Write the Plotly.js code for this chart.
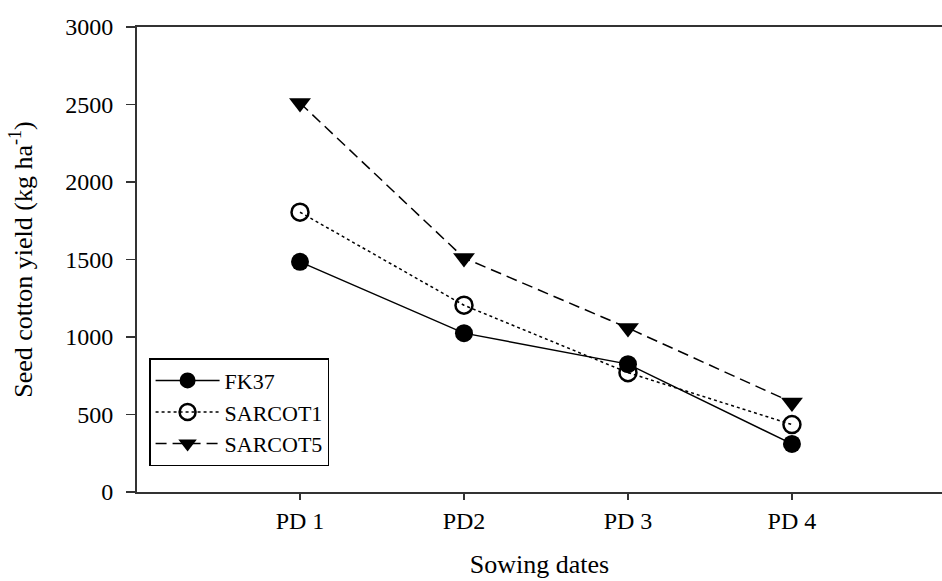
<!DOCTYPE html>
<html>
<head>
<meta charset="utf-8">
<script src="https://cdn.plot.ly/plotly-3.0.1.min.js"></script>
<style>html,body{margin:0;padding:0;background:#fff;}#chart{width:942px;height:581px;}</style>
</head>
<body>
<div id="chart"></div>
<script>
const categories = ["PD 1", "PD2", "PD 3", "PD 4"];
const fk37 = [1485, 1025, 825, 310];
const sarcot1 = [1805, 1205, 770, 435];
const sarcot5 = [2510, 1510, 1058, 578];
const yTicks = [0, 500, 1000, 1500, 2000, 2500, 3000];

const FONT = "Liberation Serif, Times New Roman, serif";

const traces = [
  {
    x: categories, y: fk37, name: "FK37", type: "scatter", mode: "lines+markers",
    line: {color: "#000", width: 1.5, dash: "solid"},
    marker: {symbol: "circle", size: 18, color: "#000"}
  },
  {
    x: categories, y: sarcot1, name: "SARCOT1", type: "scatter", mode: "lines+markers",
    line: {color: "#000", width: 1.5, dash: "dot"},
    marker: {symbol: "circle-open", size: 17, color: "#000", line: {color: "#000", width: 2.5}}
  },
  {
    x: categories, y: sarcot5, name: "SARCOT5", type: "scatter", mode: "lines+markers",
    line: {color: "#000", width: 1.5, dash: "11px,6px"},
    marker: {symbol: "triangle-down", size: 19, color: "#000"}
  }
];

const layout = {
  width: 942, height: 581,
  paper_bgcolor: "#fff", plot_bgcolor: "#fff",
  margin: {l: 137, r: 0, t: 27, b: 89},
  font: {family: FONT, size: 24, color: "#000"},
  showlegend: true,
  legend: {
    x: 0.015, y: 0.288, xanchor: "left", yanchor: "top",
    bgcolor: "#fff", bordercolor: "#000", borderwidth: 1.5,
    font: {family: FONT, size: 22, color: "#000"},
    itemwidth: 64, tracegroupgap: 0
  },
  xaxis: {
    type: "category",
    range: [-0.994, 3.915],
    showgrid: false, zeroline: false,
    showline: true, linecolor: "#333", linewidth: 2, mirror: true,
    ticks: "outside", ticklen: 6, tickwidth: 1.5, tickcolor: "#333",
    tickfont: {family: FONT, size: 24},
    title: {text: "Sowing dates", font: {family: FONT, size: 26}, standoff: 22}
  },
  yaxis: {
    range: [0, 3000],
    tickvals: yTicks,
    showgrid: false, zeroline: false,
    showline: true, linecolor: "#333", linewidth: 2, mirror: false,
    ticks: "outside", ticklen: 9, tickwidth: 1.5, tickcolor: "#333",
    ticklabelstandoff: 8,
    tickfont: {family: FONT, size: 24},
    title: {text: "Seed cotton yield (kg ha<sup>-1</sup>)", font: {family: FONT, size: 26}, standoff: 25}
  }
};

Plotly.newPlot("chart", traces, layout, {displayModeBar: false, staticPlot: true});
</script>
</body>
</html>
